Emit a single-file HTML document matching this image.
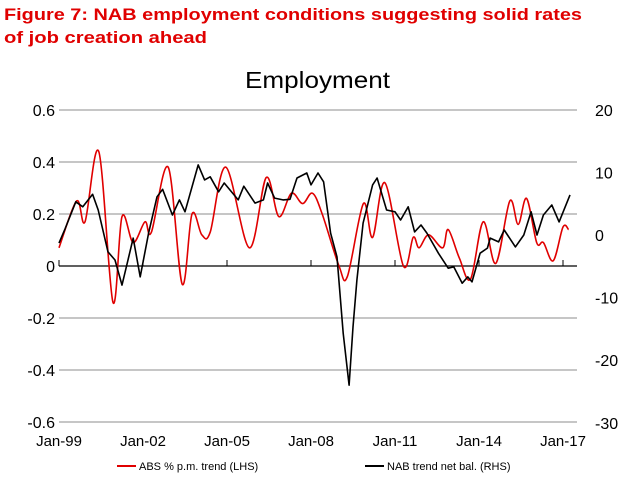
<!DOCTYPE html>
<html><head><meta charset="utf-8"><style>
body{margin:0;background:#fff;}
svg{display:block;font-family:"Liberation Sans",sans-serif;}
</style></head><body>
<svg width="638" height="494" viewBox="0 0 638 494">
<text x="4" y="20" fill="#e00000" font-size="17" font-weight="bold" textLength="578" lengthAdjust="spacingAndGlyphs">Figure 7:  NAB employment conditions suggesting solid rates</text>
<text x="4" y="43" fill="#e00000" font-size="17" font-weight="bold" textLength="203" lengthAdjust="spacingAndGlyphs">of job creation ahead</text>
<text x="245" y="88" font-size="23" fill="#000" textLength="145" lengthAdjust="spacingAndGlyphs">Employment</text>
<g id="grid"></g><g id="axes"></g><g id="series"></g>
<g>
<line x1="117" y1="466" x2="136" y2="466" stroke="#e00000" stroke-width="2"/>
<text x="139" y="470" font-size="11">ABS % p.m. trend (LHS)</text>
<line x1="365" y1="466" x2="384" y2="466" stroke="#000" stroke-width="2"/>
<text x="387" y="470" font-size="11">NAB trend net bal. (RHS)</text>
</g>
</svg>
<script>
const leftTicks=[0.6,0.4,0.2,0,-0.2,-0.4,-0.6];
const leftTickLabels=["0.6","0.4","0.2","0","-0.2","-0.4","-0.6"];
const rightTicks=[20,10,0,-10,-20,-30];
const xTickYears=[1999,2002,2005,2008,2011,2014,2017];
const xTickLabels=["Jan-99","Jan-02","Jan-05","Jan-08","Jan-11","Jan-14","Jan-17"];
const absDates=[0,0.63,0.93,1.42,1.93,2.25,2.65,3.07,3.3,3.9,4.4,4.75,5.1,5.4,5.96,6.8,7.4,7.85,8.3,8.7,9.05,9.4,10.0,10.3,10.87,11.2,11.64,12.3,12.65,12.86,13.2,13.7,13.9,14.3,14.7,15.15,15.6,16.1,16.4,16.7,17.06,17.3,17.65,18.0,18.2];
const absValues=[0.07,0.25,0.17,0.44,-0.14,0.19,0.09,0.17,0.13,0.38,-0.07,0.2,0.12,0.13,0.38,0.07,0.34,0.19,0.28,0.24,0.28,0.2,0,-0.04,0.24,0.11,0.32,0.0,0.11,0.07,0.12,0.07,0.14,0.03,-0.05,0.17,0.01,0.25,0.16,0.26,0.09,0.09,0.02,0.15,0.14];
const nabDates=[0,0.2,0.6,0.85,1.2,1.4,1.75,2.0,2.25,2.65,2.9,3.2,3.5,3.7,4.05,4.3,4.5,4.97,5.2,5.4,5.7,5.9,6.4,6.6,7.0,7.3,7.45,7.7,8.0,8.25,8.5,8.85,9.0,9.25,9.45,9.7,9.93,10.15,10.36,10.5,10.64,10.86,11.2,11.36,11.7,12.0,12.2,12.47,12.7,12.93,13.14,13.55,13.9,14.1,14.4,14.6,14.75,15.04,15.3,15.4,15.7,15.9,16.3,16.6,16.86,17.07,17.3,17.6,17.86,18.25];
const nabValues=[-1.3,0.8,5.3,4.5,6.5,4,-2.7,-4,-8,-0.5,-6.7,0.3,6.1,7.3,3.2,5.6,3.7,11.2,8.8,9.3,6.9,8.3,5.6,7.8,5.1,5.6,8.3,5.9,5.6,5.7,9.1,9.9,8,9.9,8.5,0.3,-3.5,-15.7,-24,-14.7,-7.2,1.9,8,9.1,4,3.7,2.4,4.5,0.5,1.6,0.3,-2.9,-5.3,-5.1,-7.7,-6.7,-7.5,-2.9,-2.1,-0.5,-1.1,0.8,-1.9,0,3.7,0,3.2,4.8,2.1,6.4];

const NS="http://www.w3.org/2000/svg";
const X0=59,PXY=28,L0=266,PXL=260,R0=235,PXR=6.26,XR=577;
const xs=t=>X0+t*PXY, yl=v=>L0-v*PXL, yr=v=>R0-v*PXR;
function mk(tag,attrs,parent,txt){const e=document.createElementNS(NS,tag);for(const k in attrs)e.setAttribute(k,attrs[k]);if(txt!==undefined)e.textContent=txt;parent.appendChild(e);return e;}
const grid=document.getElementById('grid'),axes=document.getElementById('axes'),ser=document.getElementById('series');
leftTicks.forEach((v,i)=>{
  if(v!==0){const g=mk('line',{x1:X0,x2:XR,y1:yl(v),y2:yl(v),stroke:'#8c8c8c','stroke-width':1},grid);
  
  }
  const t=mk('text',{x:55,y:yl(v)+6,'text-anchor':'end','font-size':16},axes,leftTickLabels[i]);
  
  
});
rightTicks.forEach(v=>{
  const t=mk('text',{x:595,y:yr(v)+6,'font-size':16},axes,String(v));
  
  
});
const zl=mk('line',{x1:X0,x2:XR,y1:L0,y2:L0,stroke:'#000','stroke-width':1.2},axes);


xTickYears.forEach((yv,i)=>{
  const x=xs(yv-1999);
  const tk=mk('line',{x1:x,x2:x,y1:L0-6,y2:L0,stroke:'#000'},axes);
  
  
  const t=mk('text',{x:x,y:446,'text-anchor':'middle','font-size':15},axes,xTickLabels[i]);
  
  
});
function smooth(pts){let d=`M${pts[0][0]},${pts[0][1]}`;for(let i=0;i<pts.length-1;i++){const p0=pts[Math.max(0,i-1)],p1=pts[i],p2=pts[i+1],p3=pts[Math.min(pts.length-1,i+2)];
 const c1=[p1[0]+(p2[0]-p0[0])/6,p1[1]+(p2[1]-p0[1])/6],c2=[p2[0]-(p3[0]-p1[0])/6,p2[1]-(p3[1]-p1[1])/6];
 d+=` C${c1[0].toFixed(1)},${c1[1].toFixed(1)} ${c2[0].toFixed(1)},${c2[1].toFixed(1)} ${p2[0].toFixed(1)},${p2[1].toFixed(1)}`;}return d;}
const abs=mk('path',{d:smooth(absDates.map((t,i)=>[xs(t),yl(absValues[i])])),fill:'none',stroke:'#e00000','stroke-width':1.6},ser);


const nab=mk('path',{d:nabDates.map((t,i)=>(i?'L':'M')+xs(t).toFixed(1)+','+yr(nabValues[i]).toFixed(1)).join(''),fill:'none',stroke:'#000','stroke-width':1.6,'stroke-linejoin':'round'},ser);


</script>
</body></html>
